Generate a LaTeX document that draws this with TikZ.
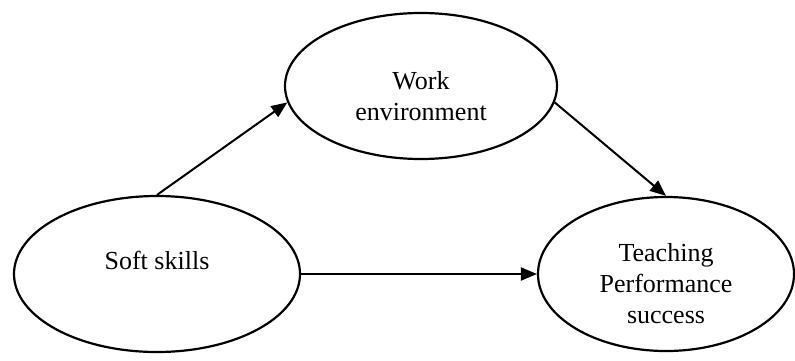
\documentclass[tikz,border=0pt]{standalone}
\usepackage{fontspec}
\setmainfont{Liberation Serif}
\usetikzlibrary{positioning, arrows.meta, shapes.geometric}

\begin{document}
\begin{tikzpicture}[
    x=0.5pt, y=0.5pt,
    construct/.style={
        ellipse,
        draw,
        line width=1.1pt,
        inner sep=0pt
    },
    txt/.style={
        font=\fontsize{13}{15.5}\selectfont,
        align=center
    },
    link/.style={
        line width=1pt,
        -{Triangle[length=8pt, width=6.5pt]}
    }
]

% ===== 画布 =====
\useasboundingbox (0,0) rectangle (795,360);

% ===== 三个变量 =====
\node[construct, minimum width=143pt, minimum height=78pt,
      label={[txt, yshift=7pt]center:Soft skills}] (soft) at (157,86) {};
\node[construct, minimum width=136pt, minimum height=73pt,
      label={[txt, yshift=-5pt]center:{Work\\environment}}] (work) at (421,274) {};
\node[construct, minimum width=128pt, minimum height=77pt,
      label={[txt, yshift=-5pt]center:{Teaching\\Performance\\success}}] (perf) at (666,86) {};

% ===== 路径 =====
\draw[link] (soft.north) -- (work.187);
\draw[link] (work.-7) -- (perf.north);
\draw[link] (soft) -- (perf);

\end{tikzpicture}
\end{document}
